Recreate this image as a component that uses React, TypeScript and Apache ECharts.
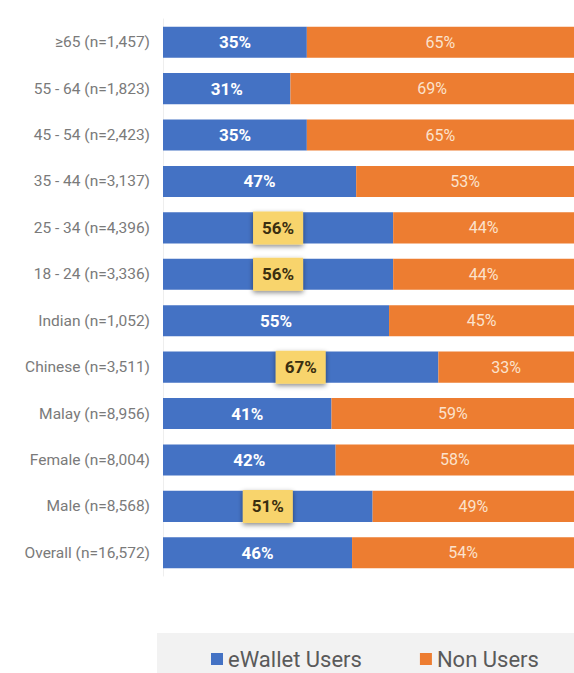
import React, { useEffect, useRef } from "react";
import * as echarts from "echarts";

const categories = [
  "≥65 (n=1,457)",
  "55 - 64 (n=1,823)",
  "45 - 54 (n=2,423)",
  "35 - 44 (n=3,137)",
  "25 - 34 (n=4,396)",
  "18 - 24 (n=3,336)",
  "Indian (n=1,052)",
  "Chinese (n=3,511)",
  "Malay (n=8,956)",
  "Female (n=8,004)",
  "Male (n=8,568)",
  "Overall (n=16,572)",
];
const ewalletUsers = [35, 31, 35, 47, 56, 56, 55, 67, 41, 42, 51, 46];
const nonUsers = [65, 69, 65, 53, 44, 44, 45, 33, 59, 58, 49, 54];
const highlighted = [false, false, false, false, true, true, false, true, false, false, true, false];

const BLUE = "#4472C4";
const ORANGE = "#ED7D31";
const FONT = "Roboto, 'Noto Sans', sans-serif";

export default function App() {
  const ref = useRef<HTMLDivElement>(null);
  useEffect(() => {
    if (!ref.current) return;
    const chart = echarts.init(ref.current, undefined, { renderer: "svg" });
    const blueData = ewalletUsers.map((v, i) =>
      highlighted[i]
        ? {
            value: v,
            label: {
              backgroundColor: "#f8d46c",
              color: "#3a2e10",
              padding: [8, 9, 8, 9],
              shadowBlur: 5,
              shadowColor: "rgba(0,0,0,0.45)",
              shadowOffsetY: 2,
            },
          }
        : v
    );
    chart.setOption({
      animation: false,
      backgroundColor: "#ffffff",
      grid: { left: 163, right: 0, top: 19, bottom: 97, containLabel: false },
      xAxis: {
        type: "value",
        min: 0,
        max: 100,
        show: false,
      },
      yAxis: {
        type: "category",
        data: categories,
        inverse: true,
        axisLine: { show: true, lineStyle: { color: "#eeeeee" } },
        axisTick: { show: false },
        axisLabel: { color: "#7a7a7a", fontSize: 15.5, fontFamily: FONT, margin: 13 },
      },
      legend: {
        left: 206,
        top: 643,
        icon: "rect",
        itemWidth: 12,
        itemHeight: 12,
        itemGap: 58,
        textStyle: { color: "#5a5a5a", fontSize: 22, fontFamily: FONT },
        data: ["eWallet Users", "Non Users"],
      },
      graphic: [
        {
          type: "rect",
          left: 157,
          top: 633,
          z: -10,
          shape: { width: 417, height: 40 },
          style: { fill: "#f2f2f2" },
        },
      ],
      series: [
        {
          name: "eWallet Users",
          type: "bar",
          stack: "total",
          barWidth: "67%",
          itemStyle: { color: BLUE },
          label: {
            show: true,
            position: "inside",
            formatter: "{c}%",
            color: "#ffffff",
            fontSize: 17,
            fontWeight: "bold",
            fontFamily: FONT,
          },
          data: blueData,
        },
        {
          name: "Non Users",
          type: "bar",
          stack: "total",
          barWidth: "67%",
          itemStyle: { color: ORANGE },
          label: {
            show: true,
            position: "inside",
            formatter: "{c}%",
            color: "#fbe2cc",
            fontSize: 16,
            fontFamily: FONT,
          },
          data: nonUsers,
        },
      ],
    });
    return () => chart.dispose();
  }, []);
  return (
    <div
      ref={ref}
      style={{ position: "fixed", left: 0, top: 0, width: 574, height: 673 }}
    />
  );
}
